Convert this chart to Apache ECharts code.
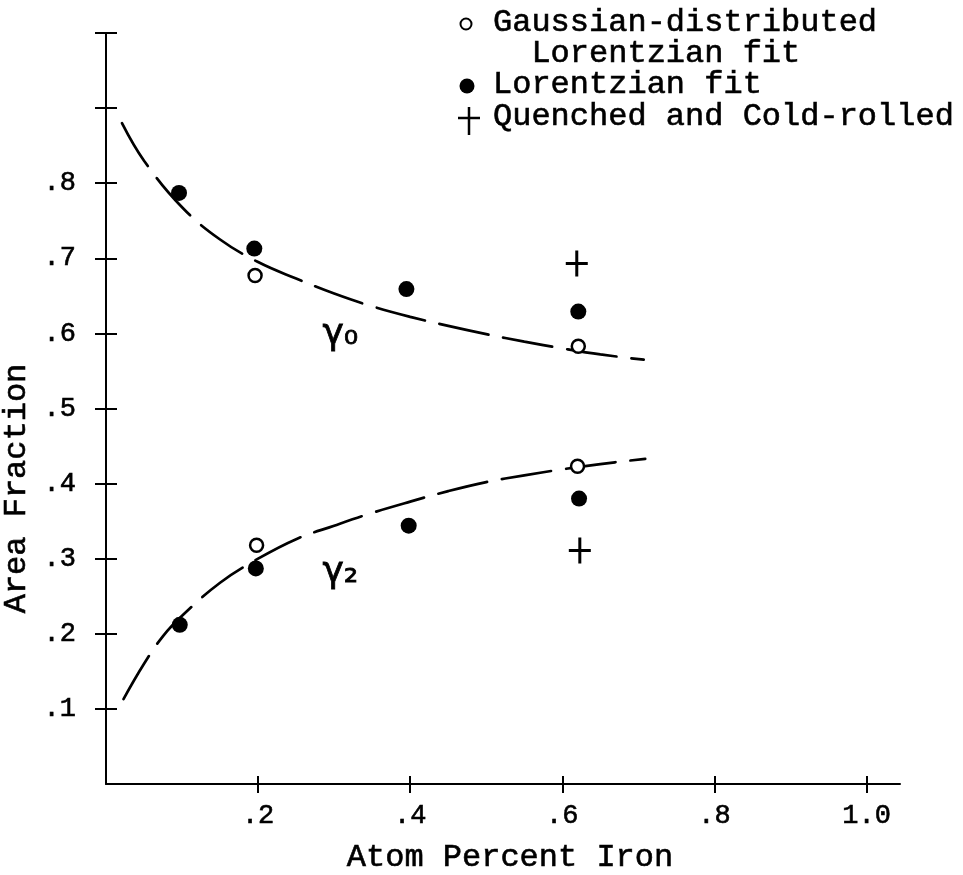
<!DOCTYPE html>
<html>
<head>
<meta charset="utf-8">
<script src="https://cdn.jsdelivr.net/npm/echarts@6/dist/echarts.min.js"></script>
<style>
html, body { margin: 0; padding: 0; background: #fff; }
#chart { width: 963px; height: 875px; }
</style>
</head>
<body>
<div id="chart"></div>
<script>
// Axis ticks and labels
const xTicks = [0.2, 0.4, 0.6, 0.8, 1.0];
const yTicks = [0.1, 0.2, 0.3, 0.4, 0.5, 0.6, 0.7, 0.8, 0.9, 1.0];
const yLabelValues = [0.1, 0.2, 0.3, 0.4, 0.5, 0.6, 0.7, 0.8];

// Measured area fractions [atom percent Fe, area fraction]
const gaussianLorentzian = [
  [0.196, 0.677], [0.621, 0.583],
  [0.198, 0.318], [0.620, 0.423]
];
const lorentzian = [
  [0.096, 0.787], [0.195, 0.713], [0.395, 0.659], [0.621, 0.629],
  [0.097, 0.212], [0.197, 0.287], [0.398, 0.344], [0.622, 0.380]
];
const quenchedColdRolled = [
  [0.619, 0.693], [0.623, 0.311]
];

// Hand-drawn trend curves for the two components
const gamma0Curve = [
  [0.021, 0.880], [0.05, 0.830], [0.10, 0.768], [0.15, 0.725], [0.20, 0.695],
  [0.25, 0.673], [0.30, 0.653], [0.35, 0.636], [0.40, 0.622], [0.45, 0.610],
  [0.50, 0.599], [0.55, 0.589], [0.60, 0.580], [0.65, 0.572], [0.707, 0.565]
];
const gamma2Curve = [
  [0.023, 0.113], [0.05, 0.160], [0.075, 0.197], [0.10, 0.224], [0.15, 0.268],
  [0.20, 0.300], [0.25, 0.326], [0.30, 0.344], [0.35, 0.361], [0.40, 0.376],
  [0.45, 0.390], [0.50, 0.402], [0.55, 0.411], [0.60, 0.419], [0.65, 0.426],
  [0.709, 0.433]
];

// Curve name anchors (data coordinates)
const curveNames = [
  [0.308, 0.598, 'γ₀'],
  [0.308, 0.281, 'γ₂']
];

const legendLines = [
  'Gaussian-distributed',
  '  Lorentzian fit',
  'Lorentzian fit',
  'Quenched and Cold-rolled'
];

const MONO = '"Liberation Mono", "DejaVu Sans Mono", monospace';
const INK = '#000';
const X_MAX = 1.044;
// slight outline so the monospace text reads like typewriter ink
const INK_EDGE = { textBorderColor: INK, textBorderWidth: 0.6 };

const plusPath = 'path://M9.5,0h3v11.5h9.5v3h-9.5v11.5h-3v-11.5h-9.5v-3h9.5z';

const chart = echarts.init(document.getElementById('chart'), null, { renderer: 'canvas' });

const tickFmtX = v => (Math.abs(v - 1) < 1e-9 ? '1.0' : '.' + Math.round(v * 10));
const tickFmtY = v => '.' + Math.round(v * 10);

const legendText = (y, text) => ({
  type: 'text', x: 493, y: y,
  style: Object.assign({ text: text, font: '32px ' + MONO, fill: INK, verticalAlign: 'middle' },
    { stroke: INK, lineWidth: 0.6 })
});

chart.setOption({
  backgroundColor: '#fff',
  animation: false,
  grid: { left: 106, right: 63, top: 33, bottom: 91, containLabel: false, outerBoundsMode: 'none' },
  xAxis: [
    {
      type: 'value', min: 0, max: X_MAX, position: 'bottom',
      axisLine: { show: true, lineStyle: { color: INK, width: 2 } },
      axisTick: { show: true, inside: false, length: 9, customValues: xTicks, lineStyle: { color: INK, width: 2 } },
      axisLabel: Object.assign({ show: true, customValues: xTicks, formatter: tickFmtX, margin: 18,
        color: INK, fontFamily: MONO, fontSize: 27 }, INK_EDGE),
      splitLine: { show: false },
      name: 'Atom Percent Iron', nameLocation: 'middle', nameGap: 58,
      nameTextStyle: Object.assign({ color: INK, fontFamily: MONO, fontSize: 32, padding: [0, 0, 0, 14] }, INK_EDGE)
    },
    {
      type: 'value', min: 0, max: X_MAX, position: 'bottom',
      axisLine: { show: false },
      axisTick: { show: true, inside: true, length: 8, customValues: xTicks, lineStyle: { color: INK, width: 2 } },
      axisLabel: { show: false },
      splitLine: { show: false }
    }
  ],
  yAxis: [
    {
      type: 'value', min: 0, max: 1.0, position: 'left',
      axisLine: { show: true, lineStyle: { color: INK, width: 2 } },
      axisTick: { show: true, inside: false, length: 11, customValues: yTicks, lineStyle: { color: INK, width: 2 } },
      axisLabel: Object.assign({ show: true, customValues: yLabelValues, formatter: tickFmtY, margin: 30,
        color: INK, fontFamily: MONO, fontSize: 27 }, INK_EDGE),
      splitLine: { show: false },
      name: 'Area Fraction', nameLocation: 'middle', nameGap: 58,
      nameTextStyle: Object.assign({ color: INK, fontFamily: MONO, fontSize: 32, padding: [0, 160, 0, 0] }, INK_EDGE)
    },
    {
      type: 'value', min: 0, max: 1.0, position: 'left',
      axisLine: { show: false },
      axisTick: { show: true, inside: true, length: 11, customValues: yTicks, lineStyle: { color: INK, width: 2 } },
      axisLabel: { show: false },
      splitLine: { show: false }
    }
  ],
  series: [
    {
      name: 'γ0 curve', type: 'line', data: gamma0Curve, smooth: 0.4,
      showSymbol: false, symbol: 'none', silent: true, z: 1,
      lineStyle: { color: INK, width: 2.7, type: [50, 15], cap: 'round' }
    },
    {
      name: 'γ2 curve', type: 'line', data: gamma2Curve, smooth: 0.4,
      showSymbol: false, symbol: 'none', silent: true, z: 1,
      lineStyle: { color: INK, width: 2.7, type: [50, 15], cap: 'round' }
    },
    {
      name: 'Gaussian-distributed Lorentzian fit', type: 'scatter', data: gaussianLorentzian,
      symbol: 'circle', symbolSize: 13, z: 3,
      itemStyle: { color: '#fff', borderColor: INK, borderWidth: 2.5, opacity: 1 }
    },
    {
      name: 'Lorentzian fit', type: 'scatter', data: lorentzian,
      symbol: 'circle', symbolSize: 16, z: 3,
      itemStyle: { color: INK, opacity: 1 }
    },
    {
      name: 'Quenched and Cold-rolled', type: 'scatter', data: quenchedColdRolled,
      symbol: plusPath, symbolSize: [22, 26], symbolKeepAspect: false, z: 3,
      itemStyle: { color: INK, opacity: 1 }
    },
    {
      name: 'curve names', type: 'scatter', data: curveNames,
      symbolSize: 0, silent: true, z: 4,
      itemStyle: { opacity: 1 },
      label: {
        show: true, position: 'inside', formatter: p => p.data[2],
        color: INK, fontFamily: '"DejaVu Sans", sans-serif', fontSize: 36,
        textBorderColor: INK, textBorderWidth: 0.8
      }
    }
  ],
  graphic: [
    { type: 'circle', shape: { cx: 466, cy: 24, r: 5.5 }, style: { fill: '#fff', stroke: INK, lineWidth: 2 } },
    { type: 'circle', shape: { cx: 467, cy: 86, r: 7.5 }, style: { fill: INK } },
    { type: 'line', shape: { x1: 458, y1: 118, x2: 480, y2: 118 }, style: { stroke: INK, lineWidth: 2.5 } },
    { type: 'line', shape: { x1: 469, y1: 107, x2: 469, y2: 135 }, style: { stroke: INK, lineWidth: 2.5 } },
    legendText(23, legendLines[0]),
    legendText(54, legendLines[1]),
    legendText(85, legendLines[2]),
    legendText(117, legendLines[3])
  ]
});
</script>
</body>
</html>
